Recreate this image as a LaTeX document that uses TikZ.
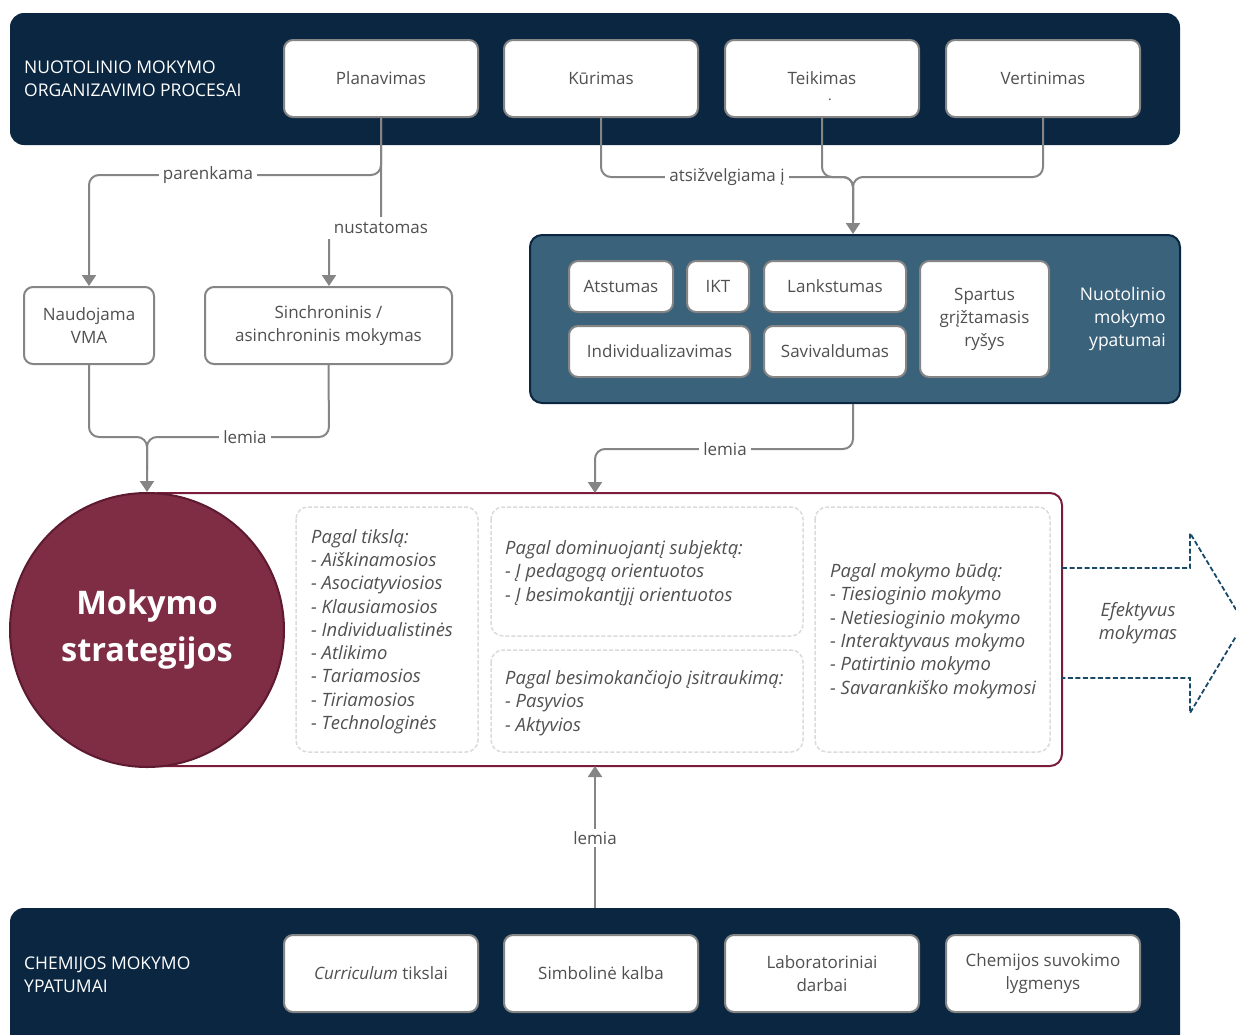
\documentclass[tikz,border=0pt]{standalone}
\usepackage{fontspec}
\setmainfont{Open Sans}
\usetikzlibrary{arrows.meta}
\definecolor{navy}{HTML}{0A2640}
\definecolor{steel}{HTML}{3B627B}
\definecolor{maroon}{HTML}{7F2C45}
\definecolor{maroonline}{HTML}{5E1A30}
\definecolor{stratline}{HTML}{7B1D3A}
\definecolor{txtgray}{HTML}{505050}
\definecolor{linegray}{HTML}{858585}
\definecolor{dashblue}{HTML}{1B4A68}
\begin{document}
\begin{tikzpicture}[x=1pt,y=-1pt,
  band/.style={fill=navy, rounded corners=14pt, inner sep=0pt},
  wbox/.style={draw=linegray, line width=2pt, fill=white, rounded corners=9pt, text=txtgray,
    font=\fontsize{17}{23}\selectfont, align=center, inner sep=0pt},
  conn/.style={draw=linegray, line width=2pt, rounded corners=10pt},
  arr/.style={conn, -{Triangle[width=14pt,length=11pt]}},
  lbl/.style={fill=white, text=txtgray, font=\fontsize{17}{20}\selectfont, inner xsep=4pt, inner ysep=2pt},
  dbox/.style={draw=black!14, dashed, dash pattern=on 4pt off 2pt, line width=1.5pt, rounded corners=12pt},
  ital/.style={font=\fontsize{18.4}{23.3}\selectfont\itshape, text=txtgray, align=left, anchor=base west, inner sep=0pt},
  hdr/.style={font=\fontsize{17.5}{23}\selectfont, text=white, align=left, anchor=base west, inner sep=0pt}
]
\useasboundingbox (0,0) rectangle (1236,1034);
\clip (0,0) rectangle (1236,1034);

% bands
\node[band, minimum width=1170pt, minimum height=132pt] (topband) at (595,79) {};
\node[band, minimum width=1170pt, minimum height=150pt] (botband) at (595,983) {};
\node[hdr] (toptitle) at (24,96) {NUOTOLINIO MOKYMO\\ORGANIZAVIMO PROCESAI};
\node[hdr] (bottitle) at (24,992) {CHEMIJOS MOKYMO\\YPATUMAI};

% top boxes
\node[wbox, minimum width=194pt, minimum height=77pt] (plan) at (381,78.5) {Planavimas};
\node[wbox, minimum width=194pt, minimum height=77pt] (kur) at (601,78.5) {Kūrimas};
\node[wbox, minimum width=194pt, minimum height=77pt] (teik) at (822,78.5) {Teikimas};
\node[wbox, minimum width=194pt, minimum height=77pt] (vert) at (1043,78.5) {Vertinimas};
\node[text=txtgray, font=\fontsize{14}{14}\selectfont, inner sep=0pt] (teikdot) at (830,100) {.};

% bottom boxes
\node[wbox, minimum width=194pt, minimum height=77pt] (curr) at (381,973.5) {\textit{Curriculum} tikslai};
\node[wbox, minimum width=194pt, minimum height=77pt] (simb) at (601,973.5) {Simbolinė kalba};
\node[wbox, minimum width=194pt, minimum height=77pt] (lab) at (822,973.5) {Laboratoriniai\\darbai};
\node[wbox, minimum width=194pt, minimum height=77pt] (chem) at (1043,973.5) {Chemijos suvokimo\\lygmenys};

% second row left
\node[wbox, minimum width=130pt, minimum height=77pt] (vma) at (89,325.5) {Naudojama\\VMA};
\node[wbox, minimum width=247pt, minimum height=77pt] (sync) at (328.5,325.5) {Sinchroninis /\\asinchroninis mokymas};

% features box
\node[fill=steel, draw=navy, line width=2pt, rounded corners=12pt, minimum width=650pt, minimum height=168pt, inner sep=0pt] (feat) at (855,319) {};
\node[wbox, minimum width=104pt, minimum height=51pt] (atst) at (621,286.5) {Atstumas};
\node[wbox, minimum width=62pt, minimum height=51pt] (ikt) at (718,286.5) {IKT};
\node[wbox, minimum width=142pt, minimum height=51pt] (lank) at (835,286.5) {Lankstumas};
\node[wbox, minimum width=181pt, minimum height=51pt] (indiv) at (659.5,351.5) {Individualizavimas};
\node[wbox, minimum width=142pt, minimum height=51pt] (savi) at (835,351.5) {Savivaldumas};
\node[wbox, minimum width=129pt, minimum height=116pt] (spart) at (984.5,319) {Spartus\\grįžtamasis\\ryšys};
\node[text=white, font=\fontsize{17.5}{23}\selectfont, align=right, inner sep=0pt, anchor=east] (feattitle) at (1166,319) {Nuotolinio\\mokymo\\ypatumai};

% strategy box
\node[draw=stratline, line width=2pt, fill=white, rounded corners=12pt, minimum width=915pt, minimum height=273pt, inner sep=0pt] (strat) at (604.5,629.5) {};
\node[circle, fill=maroon, draw=maroonline, line width=2pt, minimum size=274pt, inner sep=0pt,
  text=white, font=\fontsize{32.5}{47}\bfseries\selectfont, align=center] (circ) at (147,630) {Mokymo\\strategijos};

% dashed boxes
\draw[dbox] (296,507) rectangle (478,752);
\draw[dbox] (491,507) rectangle (803,636);
\draw[dbox] (491,650) rectangle (803,752);
\draw[dbox] (815,507) rectangle (1050,752);

\node[ital] (l1) at (311,729.5) {Pagal tikslą:\\- Aiškinamosios\\- Asociatyviosios\\- Klausiamosios\\- Individualistinės\\- Atlikimo\\- Tariamosios\\- Tiriamosios\\- Technologinės};
\node[ital] (l2) at (505,601) {Pagal dominuojantį subjektą:\\- Į pedagogą orientuotos\\- Į besimokantįjį orientuotos};
\node[ital] (l3) at (505,731) {Pagal besimokančiojo įsitraukimą:\\- Pasyvios\\- Aktyvios};
\node[ital] (l4) at (830,694) {Pagal mokymo būdą:\\- Tiesioginio mokymo\\- Netiesioginio mokymo\\- Interaktyvaus mokymo\\- Patirtinio mokymo\\- Savarankiško mokymosi};

% dashed arrow
\coordinate (ea1) at (1062,568);
\coordinate (ea2) at (1062,678);
\draw[dashblue, line width=1.8pt, dash pattern=on 5pt off 2.5pt, line join=miter]
  (ea1) -- (1190,568) -- (1190,533) -- (1244,623) -- (1190,713) -- (1190,678) -- (ea2);
\node[font=\fontsize{18.4}{23.3}\selectfont\itshape, text=txtgray, align=center] (eff) at (1138,623) {Efektyvus\\mokymas};

% connectors
\coordinate (stratin) at (595,493);
\coordinate (stratout) at (595,766);
\coordinate (botin) at (595,908);

\draw[arr] (plan.south) -- (381,175) -- (89,175) -- (vma.north);
\node[lbl] (lparen) at (208,175) {parenkama};
\draw[arr] (plan.south) -- (381,228) -- (329,228) -- (sync.north -| 329,0);
\node[lbl, inner xsep=7pt, inner ysep=5pt] (lnust) at (381,228) {nustatomas};

\draw[arr] (kur.south) -- (601,177) -- (853,177) -- (feat.north -| 853,0);
\draw[conn] (teik.south) -- (822,177) -- (853,177) -- (853,220);
\draw[conn] (vert.south) -- (1043,177) -- (853,177) -- (853,220);
\node[lbl] (latsi) at (727,177) {atsižvelgiama į};

\draw[arr] (vma.south) -- (89,437) -- (147,437) -- (circ.north);
\draw[conn] (sync.south) -- (329,437) -- (147,437) -- (147,470);
\node[lbl] (llem1) at (245,437) {lemia};

\draw[arr] (feat.south -| 853,0) -- (853,449) -- (595,449) -- (stratin);
\node[lbl] (llem2) at (725,449) {lemia};

\draw[arr] (botin) -- (stratout);
\node[lbl] (llem3) at (595,838) {lemia};
\end{tikzpicture}
\end{document}
